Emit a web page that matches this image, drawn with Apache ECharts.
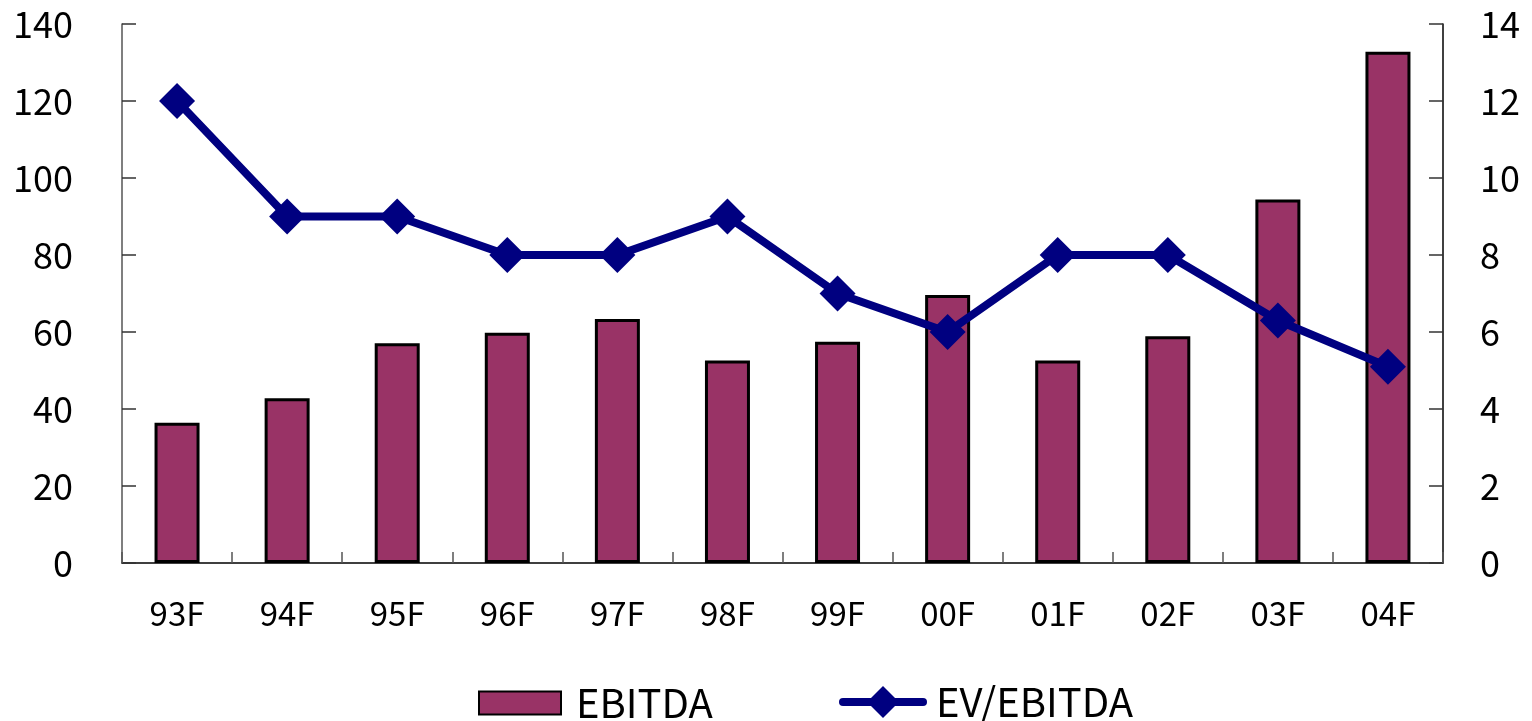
<!DOCTYPE html>
<html>
<head>
<meta charset="utf-8">
<script src="https://cdn.jsdelivr.net/npm/echarts@6/dist/echarts.min.js"></script>
<style>
  html, body { margin: 0; padding: 0; background: #fff; }
  #chart { width: 1532px; height: 721px; }
</style>
</head>
<body>
<div id="chart"></div>
<script>
// Fiscal years
const categories = ['93F', '94F', '95F', '96F', '97F', '98F', '99F', '00F', '01F', '02F', '03F', '04F'];
// EBITDA (left axis)
const ebitda = [36.4, 42.8, 57.1, 59.8, 63.4, 52.6, 57.5, 69.6, 52.6, 58.9, 94.4, 132.8];
// EV/EBITDA multiple (right axis)
const evEbitda = [12, 9, 9, 8, 8, 9, 7, 6, 8, 8, 6.3, 5.1];
// Axis tick labels
const leftTicks = [0, 20, 40, 60, 80, 100, 120, 140];
const rightTicks = [0, 2, 4, 6, 8, 10, 12, 14];

const FONT = '"Noto Sans CJK JP", "Noto Sans", sans-serif';
const BAR_COLOR = '#993366';
const LINE_COLOR = '#000080';

const chart = echarts.init(document.getElementById('chart'), null, { renderer: 'canvas' });

const legendText = { fontFamily: FONT, fontSize: 40, color: '#000' };

chart.setOption({
  animation: false,
  backgroundColor: '#ffffff',
  grid: { left: 122, right: 89, top: 24, bottom: 158, containLabel: false },
  // two legend blocks so the bar swatch and the line/diamond icon can differ in height
  legend: [
    {
      left: 478,
      top: 683,
      padding: 0,
      itemWidth: 82,
      itemHeight: 23,
      textStyle: Object.assign({ padding: [0, 0, 0, 10] }, legendText),
      data: [{ name: 'EBITDA', icon: 'rect' }]
    },
    {
      left: 839,
      top: 682,
      padding: 0,
      itemWidth: 80,
      itemHeight: 40,
      textStyle: Object.assign({ padding: [0, 0, 0, 8] }, legendText),
      data: [{
        name: 'EV/EBITDA',
        lineStyle: { width: 8, color: LINE_COLOR, cap: 'round' },
        itemStyle: { color: LINE_COLOR }
      }]
    }
  ],
  xAxis: {
    type: 'category',
    data: categories,
    boundaryGap: true,
    axisLine: { show: true, lineStyle: { color: '#000', width: 1.5 } },
    axisTick: { show: true, inside: true, length: 11, lineStyle: { color: '#555', width: 1.5 } },
    axisLabel: { fontFamily: FONT, fontSize: 33, color: '#000', margin: 34 },
    splitLine: { show: false }
  },
  yAxis: [
    {
      type: 'value',
      min: 0, max: 140, interval: 20,
      axisLine: { show: true, lineStyle: { color: '#555', width: 1.5 } },
      axisTick: { show: true, inside: true, length: 14, lineStyle: { color: '#333', width: 1.5 } },
      axisLabel: {
        fontFamily: FONT, fontSize: 36, color: '#000', margin: 49,
        formatter: v => (leftTicks.includes(v) ? String(v) : '')
      },
      splitLine: { show: false }
    },
    {
      type: 'value',
      min: 0, max: 14, interval: 2,
      position: 'right',
      axisLine: { show: true, lineStyle: { color: '#000', width: 1.5 } },
      axisTick: { show: true, inside: true, length: 14, lineStyle: { color: '#333', width: 1.5 } },
      axisLabel: {
        fontFamily: FONT, fontSize: 36, color: '#000', margin: 37,
        formatter: v => (rightTicks.includes(v) ? String(v) : '')
      },
      splitLine: { show: false }
    }
  ],
  series: [
    {
      name: 'EBITDA',
      type: 'bar',
      yAxisIndex: 0,
      data: ebitda,
      barWidth: 45,
      itemStyle: { color: BAR_COLOR, borderColor: '#000', borderWidth: 3 }
    },
    {
      name: 'EV/EBITDA',
      type: 'line',
      yAxisIndex: 1,
      data: evEbitda,
      symbol: 'diamond',
      symbolSize: 36,
      showSymbol: true,
      lineStyle: { color: LINE_COLOR, width: 8, cap: 'round', join: 'round' },
      itemStyle: { color: LINE_COLOR },
      z: 5
    }
  ]
});
</script>
</body>
</html>
